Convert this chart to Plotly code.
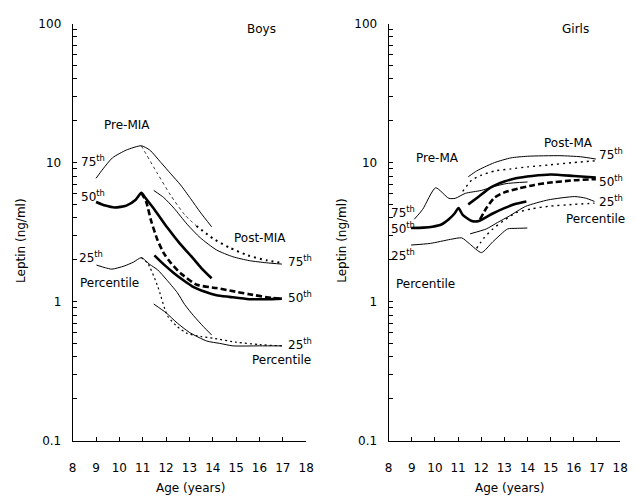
import plotly.graph_objects as go

W, H = 636, 502

# ---------------- DATA ----------------
x_ticks = [8, 9, 10, 11, 12, 13, 14, 15, 16, 17, 18]
y_tick_labels = {0.1: "0.1", 1: "1", 10: "10", 100: "100"}

# Boys
b75_pre_age = [9.0, 9.3, 9.7, 10.3, 10.94, 11.3, 11.78, 12.2, 12.62, 13.05, 13.46, 13.95]
b75_pre_val = [7.7, 9.0, 10.8, 12.3, 13.2, 12.3, 10.0, 8.3, 6.9, 5.5, 4.4, 3.45]
b75_trA_age = [10.94, 11.6, 12.2, 12.8, 13.3]
b75_trA_val = [13.2, 8.5, 5.8, 4.2, 3.5]
b75_trB_age = [13.3, 14.0, 14.7, 15.5, 16.3, 16.96]
b75_trB_val = [3.5, 2.85, 2.45, 2.15, 1.98, 1.9]
b75_post_age = [11.47, 11.9, 12.34, 12.9, 13.46, 14.16, 14.86, 15.56, 16.3, 16.96]
b75_post_val = [6.3, 5.6, 4.69, 3.6, 2.88, 2.35, 2.1, 1.97, 1.9, 1.86]

b50_pre_age = [9.0, 9.4, 9.8, 10.3, 10.7, 10.94, 11.1, 11.5, 12.06, 12.6, 13.11, 13.5, 13.95]
b50_pre_val = [5.2, 4.9, 4.75, 4.9, 5.4, 6.05, 5.6, 4.6, 3.39, 2.6, 2.09, 1.75, 1.47]
b50_tr_age = [10.94, 11.15, 11.36, 11.64, 11.92, 12.2, 12.62, 13.32, 14.16, 14.72, 15.56, 16.54, 16.96]
b50_tr_val = [6.05, 5.2, 3.8, 2.75, 2.2, 1.9, 1.6, 1.32, 1.25, 1.2, 1.13, 1.06, 1.05]
b50_post_age = [11.5, 11.9, 12.34, 12.8, 13.18, 13.7, 14.16, 14.72, 15.56, 16.3, 16.96]
b50_post_val = [2.15, 1.85, 1.6, 1.4, 1.27, 1.17, 1.11, 1.08, 1.04, 1.04, 1.05]

b25_pre_age = [9.02, 9.4, 9.68, 10.2, 10.6, 10.94, 11.3, 11.64, 12.0, 12.48, 12.8, 13.18, 13.6, 13.95]
b25_pre_val = [1.83, 1.75, 1.71, 1.8, 1.92, 2.07, 1.85, 1.69, 1.45, 1.16, 0.95, 0.79, 0.66, 0.575]
b25_tr_age = [10.94, 11.22, 11.64, 12.06, 12.48, 12.9, 13.5, 14.0, 15.0, 16.0, 16.96]
b25_tr_val = [2.07, 1.88, 1.29, 0.79, 0.66, 0.59, 0.56, 0.545, 0.51, 0.49, 0.48]
b25_post_age = [11.47, 12.0, 12.48, 13.0, 13.74, 14.3, 14.86, 16.0, 16.96]
b25_post_val = [0.96, 0.83, 0.70, 0.6, 0.52, 0.5, 0.48, 0.48, 0.48]

# Girls
g75_pre_age = [9.11, 9.47, 10.03, 10.6, 10.88, 11.31, 12.0, 12.5, 13.07, 14.0]
g75_pre_val = [3.91, 4.6, 6.58, 5.53, 5.53, 6.0, 6.3, 6.68, 7.05, 7.25]
g75_post_age = [11.44, 11.8, 12.15, 12.58, 13.28, 14.0, 15.4, 16.3, 16.95]
g75_post_val = [7.9, 8.7, 9.3, 10.0, 10.8, 11.1, 11.2, 11.0, 10.6]
g75_tr_age = [11.2, 11.6, 12.0, 12.58, 13.3, 14.0, 14.9, 16.0, 16.95]
g75_tr_val = [6.2, 7.5, 8.1, 8.7, 9.0, 9.3, 9.6, 10.0, 10.3]

g50_pre_age = [8.97, 9.5, 9.89, 10.3, 10.6, 10.85, 11.02, 11.2, 11.59, 11.9, 12.5, 13.0, 13.5, 13.95]
g50_pre_val = [3.38, 3.4, 3.45, 3.6, 3.91, 4.3, 4.71, 4.2, 3.8, 3.8, 4.3, 4.7, 5.05, 5.25]
g50_post_age = [11.44, 11.9, 12.4, 13.0, 13.5, 14.2, 15.0, 16.0, 16.95]
g50_post_val = [5.0, 5.7, 6.6, 7.3, 7.7, 8.0, 8.2, 8.0, 7.8]
g50_tr_age = [11.95, 12.22, 12.58, 13.0, 13.6, 14.3, 14.9, 16.0, 16.95]
g50_tr_val = [3.9, 4.7, 5.6, 6.1, 6.5, 6.9, 7.15, 7.45, 7.6]

g25_pre_age = [8.97, 9.8, 10.67, 11.16, 11.5, 12.01, 12.5, 13.14, 13.5, 13.99]
g25_pre_val = [2.55, 2.62, 2.8, 2.87, 2.6, 2.25, 2.69, 3.33, 3.36, 3.38]
g25_post_age = [11.52, 12.22, 12.7, 13.21, 13.92, 14.9, 16.04, 16.5, 16.89]
g25_post_val = [3.07, 3.33, 3.7, 4.12, 4.84, 5.39, 5.69, 5.55, 5.25]
g25_tr_age = [11.8, 12.1, 12.5, 13.0, 13.5, 14.2, 14.9, 16.0, 16.89]
g25_tr_val = [2.41, 2.85, 3.33, 3.85, 4.35, 4.65, 4.84, 5.0, 5.1]

# ---------------- FIGURE ----------------
fig = go.Figure()

def add(xs, ys, axis, width, dash="solid"):
    fig.add_trace(go.Scatter(
        x=xs, y=ys, mode="lines", xaxis="x" + axis, yaxis="y" + axis,
        line=dict(color="black", width=width, dash=dash, shape="spline", smoothing=0.6),
        showlegend=False, hoverinfo="skip"))

THIN, THICK = 1, 2.6
add(b75_pre_age, b75_pre_val, "", THIN)
add(b75_trA_age, b75_trA_val, "", 0.8, "3px,3px")
add(b75_trB_age, b75_trB_val, "", 2, "2px,4px")
add(b75_post_age, b75_post_val, "", THIN)
add(b50_pre_age, b50_pre_val, "", THICK)
add(b50_tr_age, b50_tr_val, "", THICK, "6px,3px")
add(b50_post_age, b50_post_val, "", THICK)
add(b25_pre_age, b25_pre_val, "", THIN)
add(b25_tr_age, b25_tr_val, "", 1.2, "2px,3px")
add(b25_post_age, b25_post_val, "", THIN)

add(g75_pre_age, g75_pre_val, "2", THIN)
add(g75_post_age, g75_post_val, "2", THIN)
add(g75_tr_age, g75_tr_val, "2", 1.4, "2px,4px")
add(g50_pre_age, g50_pre_val, "2", THICK)
add(g50_post_age, g50_post_val, "2", THICK)
add(g50_tr_age, g50_tr_val, "2", THICK, "6px,3px")
add(g25_pre_age, g25_pre_val, "2", THIN)
add(g25_post_age, g25_post_val, "2", THIN)
add(g25_tr_age, g25_tr_val, "2", 1.4, "2px,4px")

FONT = "DejaVu Sans"
y_vals = [m * 10 ** e for e in (-1, 0, 1) for m in range(1, 10)] + [100]
y_text = [y_tick_labels.get(round(v, 6), "") for v in y_vals]

TOP, BOT = 17, 446
ydom = [1 - BOT / H, 1 - TOP / H]

def xaxis(dom, anchor):
    return dict(domain=dom, range=[8, 18], anchor=anchor, tickvals=x_ticks,
                ticks="inside", ticklen=4, tickcolor="black", showline=True,
                linecolor="black", linewidth=1, showgrid=False, zeroline=False,
                tickfont=dict(family=FONT, size=12, color="black"),
                ticklabelstandoff=16)

def yaxis(anchor):
    return dict(domain=ydom, type="log", range=[-1, 2], anchor=anchor,
                tickvals=y_vals, ticktext=y_text, ticks="inside", ticklen=4,
                tickcolor="black", showline=True, linecolor="black", linewidth=1,
                showgrid=False, zeroline=False,
                tickfont=dict(family=FONT, size=12, color="black"),
                ticklabelstandoff=8)

def P(x, y):
    return x / W, 1 - y / H

labels = [
    ("Boys", 262, 23), ("Girls", 582, 23),
    ("Pre-MIA", 125, 121), ("75<sup>th</sup>", 91, 158), ("50<sup>th</sup>", 91, 194),
    ("25<sup>th</sup>", 89, 257), ("Percentile", 108, 284),
    ("Post-MIA", 261, 238), ("75<sup>th</sup>", 302, 261), ("50<sup>th</sup>", 302, 298),
    ("25<sup>th</sup>", 302, 347), ("Percentile", 283, 363),
    ("Pre-MA", 442, 155), ("75<sup>th</sup>", 407, 211), ("50<sup>th</sup>", 407, 227),
    ("25<sup>th</sup>", 407, 255), ("Percentile", 430, 285),
    ("Post-MA", 575, 140), ("75<sup>th</sup>", 619, 151), ("50<sup>th</sup>", 619, 179),
    ("25<sup>th</sup>", 619, 200), ("Percentile", 603, 218),
]
ann = []
for t, px, py in labels:
    x, y = P(px, py)
    ann.append(dict(text=t, x=x, y=y, xref="paper", yref="paper", showarrow=False,
                    xanchor="center", yanchor="middle",
                    font=dict(family=FONT, size=12, color="black")))
for px, py in [(190, 495), (515, 495)]:
    x, y = P(px, py)
    ann.append(dict(text="Age (years)", x=x, y=y, xref="paper", yref="paper",
                    showarrow=False, xanchor="center", yanchor="middle",
                    font=dict(family=FONT, size=12, color="black")))
for px, py in [(18, 240), (345, 240)]:
    x, y = P(px, py)
    ann.append(dict(text="Leptin (ng/ml)", x=x, y=y, xref="paper", yref="paper",
                    showarrow=False, textangle=-90, xanchor="center", yanchor="middle",
                    font=dict(family=FONT, size=12, color="black")))

fig.update_layout(
    width=W, height=H, margin=dict(l=0, r=0, t=0, b=0),
    paper_bgcolor="white", plot_bgcolor="white",
    xaxis=xaxis([70 / W, 308 / W], "y"),
    yaxis=yaxis("x"),
    xaxis2=xaxis([392 / W, 628 / W], "y2"),
    yaxis2=yaxis("x2"),
    annotations=ann,
)

fig.write_html("out.html", config={"displayModeBar": False},
               post_script="document.body.style.margin='0';document.body.style.overflow='hidden';")
